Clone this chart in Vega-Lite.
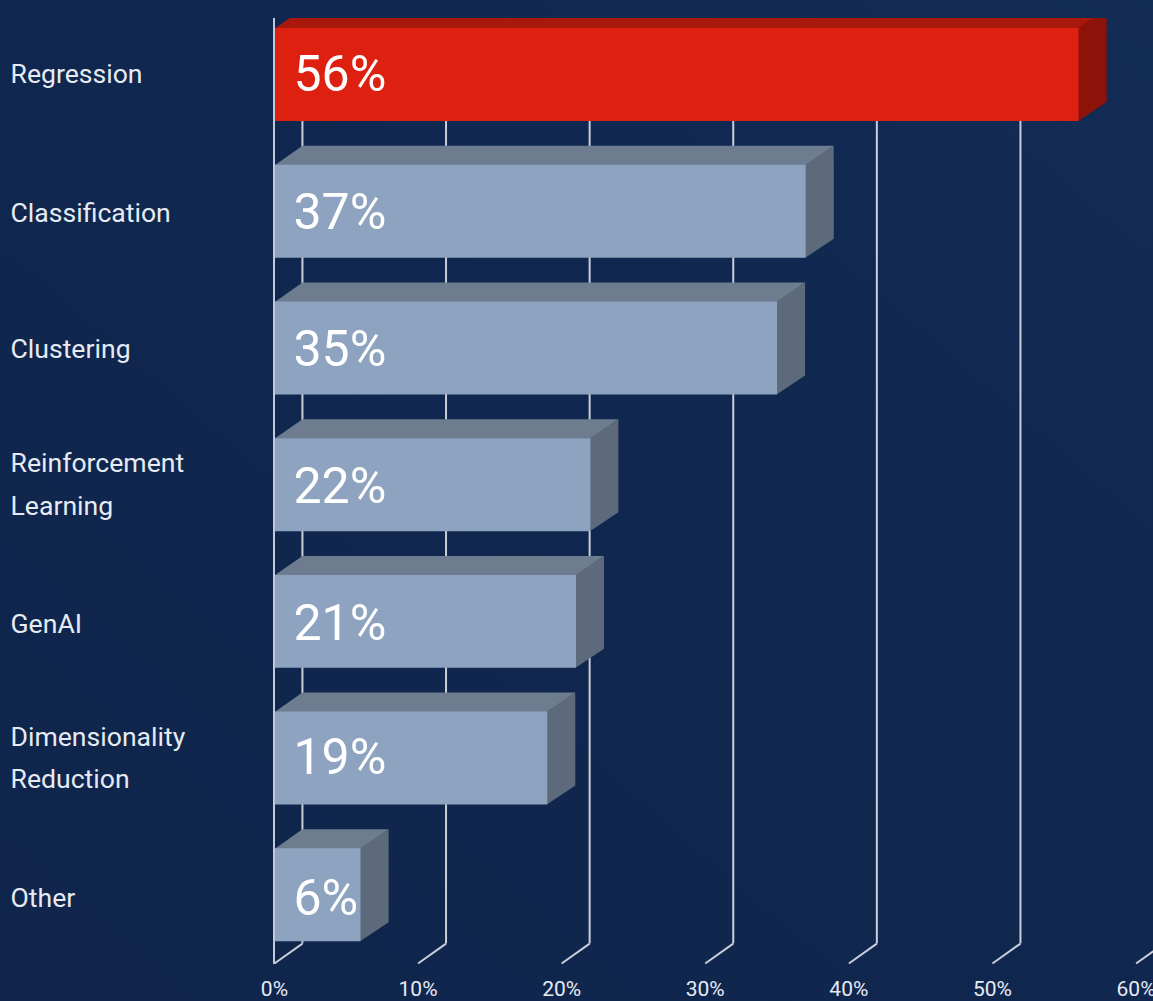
{
  "$schema": "https://vega.github.io/schema/vega-lite/v6.json",
  "width": 1153,
  "height": 983,
  "autosize": {"type": "none"},
  "padding": {"top": 18, "left": 0, "right": 0, "bottom": 0},
  "background": "#10274f",
  "config": {"view": {"stroke": null}, "text": {"font": "Roboto"}},
  "datasets": {
    "methods": [
      {"method": "Regression", "caption": "Regression", "share": 56, "rank": 0},
      {"method": "Classification", "caption": "Classification", "share": 37, "rank": 1},
      {"method": "Clustering", "caption": "Clustering", "share": 35, "rank": 2},
      {"method": "Reinforcement Learning", "caption": "Reinforcement\nLearning", "share": 22, "rank": 3},
      {"method": "GenAI", "caption": "GenAI", "share": 21, "rank": 4},
      {"method": "Dimensionality Reduction", "caption": "Dimensionality\nReduction", "share": 19, "rank": 5},
      {"method": "Other", "caption": "Other", "share": 6, "rank": 6}
    ],
    "ticks": [
      {"tick": 0}, {"tick": 10}, {"tick": 20}, {"tick": 30}, {"tick": 40}, {"tick": 50}, {"tick": 60}
    ]
  },
  "data": {"name": "methods"},
  "layer": [
    {
      "description": "Backdrop with a faint diagonal shift in the navy",
      "data": {"values": [{}]},
      "mark": {
        "type": "rect",
        "clip": false,
        "color": {
          "gradient": "linear", "x1": 0, "y1": 1, "x2": 1, "y2": 0,
          "stops": [{"offset": 0, "color": "#0f254c"}, {"offset": 0.6, "color": "#10274f"}, {"offset": 1, "color": "#132c56"}]
        }
      },
      "encoding": {
        "x": {"datum": -19.11, "type": "quantitative", "scale": {"domain": [-19.11, 61.18], "nice": false, "zero": false}, "axis": null},
        "x2": {"datum": 61.18},
        "y": {"datum": -0.5454, "type": "quantitative", "scale": {"domain": [-0.4137, 6.777], "reverse": true, "nice": false, "zero": false}, "axis": null},
        "y2": {"datum": 6.777}
      }
    },
    {
      "description": "Back-wall gridlines, shifted by the depth of the 3D box",
      "data": {"name": "ticks"},
      "transform": [{"calculate": "datum.tick + 1.95", "as": "back"}],
      "mark": {"type": "rule", "stroke": "#c9ced8", "strokeWidth": 2, "clip": true},
      "encoding": {
        "x": {"field": "back", "type": "quantitative", "axis": null},
        "y": {"datum": -0.41, "type": "quantitative", "axis": null},
        "y2": {"datum": 6.357}
      }
    },
    {
      "description": "Floor segments running from the back wall to the front edge",
      "data": {"name": "ticks"},
      "transform": [{"calculate": "datum.tick + 1.95", "as": "back"}],
      "mark": {"type": "rule", "stroke": "#c9ced8", "strokeWidth": 2, "clip": true},
      "encoding": {
        "x": {"field": "back", "type": "quantitative", "axis": null},
        "x2": {"field": "tick"},
        "y": {"datum": 6.357, "type": "quantitative", "axis": null},
        "y2": {"datum": 6.503}
      }
    },
    {
      "description": "Top face of each box; its near edge tucks slightly under the front face",
      "transform": [
        {"calculate": "[0, 1]", "as": "t"},
        {"flatten": ["t"]},
        {"calculate": "datum.t * 1.95", "as": "x0"},
        {"calculate": "datum.share + datum.t * 1.95", "as": "x1"},
        {"calculate": "datum.rank - 0.335 - datum.t * 0.144", "as": "yTop"}
      ],
      "mark": {"type": "area", "orient": "horizontal", "clip": true},
      "encoding": {
        "y": {"field": "yTop", "type": "quantitative", "axis": null},
        "x": {"field": "x0", "type": "quantitative", "axis": null},
        "x2": {"field": "x1"},
        "detail": {"field": "method"},
        "color": {"condition": {"test": "datum.method === 'Regression'", "value": "#a8180c"}, "value": "#6d7c8f"}
      }
    },
    {
      "description": "Right-hand side face of each box",
      "transform": [
        {"calculate": "[0, 1]", "as": "t"},
        {"flatten": ["t"]},
        {"calculate": "datum.share - 0.03 + datum.t * 1.98", "as": "xSide"},
        {"calculate": "datum.rank - 0.34 - datum.t * 0.139", "as": "yTop"},
        {"calculate": "datum.rank + 0.34 - datum.t * 0.139", "as": "yBottom"}
      ],
      "mark": {"type": "area", "orient": "vertical", "clip": true},
      "encoding": {
        "x": {"field": "xSide", "type": "quantitative", "axis": null},
        "y": {"field": "yTop", "type": "quantitative", "axis": null},
        "y2": {"field": "yBottom"},
        "detail": {"field": "method"},
        "color": {"condition": {"test": "datum.method === 'Regression'", "value": "#8c120a"}, "value": "#5d6a7b"}
      }
    },
    {
      "description": "Front face of each box",
      "transform": [
        {"calculate": "datum.rank - 0.34", "as": "yTop"},
        {"calculate": "datum.rank + 0.34", "as": "yBottom"}
      ],
      "mark": {"type": "rect"},
      "encoding": {
        "x": {"field": "share", "type": "quantitative", "axis": null},
        "x2": {"datum": 0},
        "y": {"field": "yTop", "type": "quantitative", "axis": null},
        "y2": {"field": "yBottom"},
        "color": {"condition": {"test": "datum.method === 'Regression'", "value": "#de2010"}, "value": "#8ea3bf"}
      }
    },
    {
      "description": "Value axis line at zero",
      "mark": {"type": "rule", "stroke": "#c3c9d4", "strokeWidth": 2},
      "encoding": {
        "x": {"datum": -0.03, "type": "quantitative", "axis": null},
        "y": {"datum": -0.41, "type": "quantitative", "axis": null},
        "y2": {"datum": 6.503}
      }
    },
    {
      "description": "Value printed on each box",
      "transform": [
        {"calculate": "datum.share + '%'", "as": "shareText"},
        {"calculate": "datum.rank + ({'Classification': 2, 'Clustering': 2, 'Reinforcement Learning': 2, 'GenAI': 3, 'Other': 4}[datum.method] || 0) / 136.7", "as": "labelRow"}
      ],
      "mark": {"type": "text", "align": "left", "baseline": "middle", "xOffset": 19, "yOffset": 1, "fontSize": 50, "color": "#ffffff"},
      "encoding": {
        "x": {"datum": 0, "type": "quantitative", "axis": null},
        "y": {"field": "labelRow", "type": "quantitative", "axis": null},
        "text": {"field": "shareText"}
      }
    },
    {
      "description": "Category names on one line",
      "transform": [
        {"filter": "indexof(datum.caption, '\\n') < 0"},
        {"calculate": "datum.rank + ({'Classification': 2, 'Clustering': 2, 'GenAI': 3, 'Other': 4}[datum.method] || 0) / 136.7", "as": "labelRow"}
      ],
      "mark": {"type": "text", "align": "left", "baseline": "middle", "xOffset": 10.5, "yOffset": 0.5, "fontSize": 26.6, "color": "#e6ebf3"},
      "encoding": {
        "x": {"datum": -19.11, "type": "quantitative", "axis": null},
        "y": {"field": "labelRow", "type": "quantitative", "axis": null},
        "text": {"field": "caption"}
      }
    },
    {
      "description": "Category names wrapped onto two lines, centred on their box",
      "transform": [{"filter": "indexof(datum.caption, '\\n') >= 0"}],
      "mark": {"type": "text", "align": "left", "baseline": "middle", "xOffset": 10.5, "yOffset": -20.5, "fontSize": 26.6, "lineHeight": 42.5, "lineBreak": "\n", "color": "#e6ebf3"},
      "encoding": {
        "x": {"datum": -19.11, "type": "quantitative", "axis": null},
        "y": {"field": "rank", "type": "quantitative", "axis": null},
        "text": {"field": "caption"}
      }
    },
    {
      "description": "Percent labels along the front edge of the floor",
      "data": {"name": "ticks"},
      "transform": [{"calculate": "datum.tick + '%'", "as": "tickText"}],
      "mark": {"type": "text", "align": "center", "baseline": "middle", "fontSize": 21, "color": "#e6ebf3", "clip": false},
      "encoding": {
        "x": {"field": "tick", "type": "quantitative", "axis": null},
        "y": {"datum": 6.70, "type": "quantitative", "axis": null},
        "text": {"field": "tickText"}
      }
    }
  ]
}
